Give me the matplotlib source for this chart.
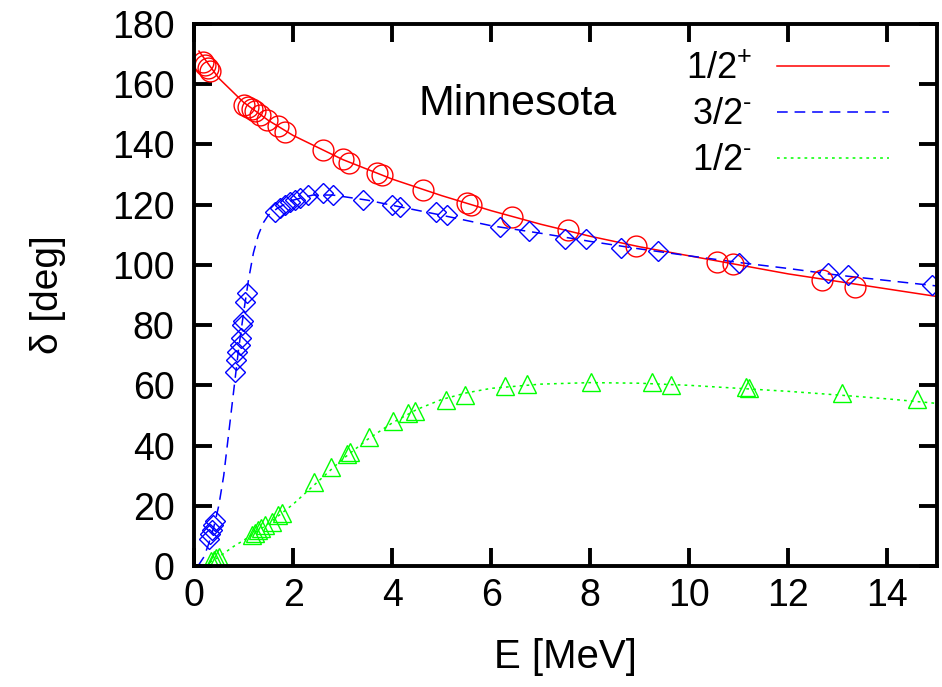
import matplotlib
matplotlib.use("Agg")
import matplotlib.pyplot as plt

plt.rcParams['font.family'] = ['Liberation Sans', 'DejaVu Sans']
plt.rcParams['mathtext.fontset'] = 'custom'
plt.rcParams['mathtext.rm'] = 'Liberation Sans'
plt.rcParams['mathtext.it'] = 'Liberation Sans:italic'

# ---- data: 1/2+ (red) ----
e_p12 = [0.18, 0.23, 0.28, 0.33, 1.0, 1.1, 1.17, 1.23, 1.33, 1.47, 1.70, 1.84,
         2.6, 3.0, 3.12, 3.69, 3.79, 4.63, 5.52, 5.59, 6.43, 7.55, 8.93,
         10.55, 10.88, 12.68, 13.34]
d_p12 = [167.5, 166.5, 165.5, 164.3, 153.1, 152.3, 151.7, 151.2, 149.8, 148.1, 146.1, 144.2,
         138.0, 135.1, 134.0, 130.6, 129.9, 124.9, 120.4, 119.8, 116.0, 111.6, 106.4,
         101.0, 100.3, 95.0, 92.8]
curve_e_p12 = [0.1, 0.5, 1.0, 1.5, 2.0, 2.5, 3.0, 4.0, 5.0, 6.0, 7.0, 8.0, 9.0,
               10.0, 11.0, 12.0, 13.0, 14.0, 15.0]
curve_d_p12 = [171.0, 162.0, 154.0, 148.0, 143.0, 139.0, 135.0, 128.5, 123.0, 118.0,
               113.5, 109.5, 106.0, 103.0, 100.0, 97.0, 94.5, 92.0, 89.5]

# ---- data: 3/2- (blue) ----
e_m32 = [0.30, 0.33, 0.36, 0.39, 0.42, 0.83, 0.85, 0.87, 0.92, 0.94, 0.96, 0.98,
         1.03, 1.06, 1.64, 1.74, 1.84, 1.94, 2.04, 2.14, 2.31, 2.61, 2.81, 3.42,
         3.99, 4.16, 4.89, 5.10, 6.18, 6.76, 7.49, 7.91, 8.62, 9.36, 11.0,
         12.79, 13.21, 14.89]
d_m32 = [9.0, 10.5, 12.0, 13.5, 15.0, 64.5, 68.4, 71.2, 73.4, 75.6, 80.0, 81.2,
         87.8, 90.6, 117.7, 118.8, 119.9, 121.0, 121.6, 122.1, 123.2, 123.8, 123.2, 121.6,
         119.9, 119.3, 117.4, 116.6, 112.7, 111.4, 108.7, 108.5, 105.7, 104.7, 100.7,
         97.4, 96.6, 93.3]
curve_e_m32 = [0.08, 0.2, 0.3, 0.4, 0.5, 0.6, 0.7, 0.8, 0.9, 1.0, 1.1, 1.2, 1.3, 1.4,
               1.5, 1.7, 2.0, 2.4, 2.8, 3.5, 4.0, 5.0, 6.0, 7.0, 8.0, 9.0, 10.0, 11.0,
               12.0, 13.0, 14.0, 15.0]
curve_d_m32 = [0.0, 3.0, 7.5, 13.0, 20.0, 30.0, 44.0, 58.0, 72.0, 84.0, 95.0, 104.0,
               110.0, 114.0, 116.5, 119.0, 121.5, 123.2, 123.2, 121.5, 119.8, 116.5,
               113.0, 110.5, 107.8, 105.3, 103.0, 100.8, 98.8, 96.6, 94.8, 93.0]

# ---- data: 1/2- (green) ----
e_m12 = [0.35, 0.40, 0.45, 0.50, 1.17, 1.23, 1.30, 1.36, 1.43, 1.57, 1.70, 1.77,
         2.43, 2.76, 3.08, 3.15, 3.54, 4.02, 4.33, 4.47, 5.09, 5.48, 6.28, 6.72,
         8.02, 9.25, 9.63, 11.15, 11.2, 13.09, 14.59]
d_m12 = [1.5, 2.0, 2.5, 3.0, 10.3, 11.1, 12.0, 12.5, 13.6, 14.7, 16.9, 17.5,
         28.0, 33.0, 37.3, 38.0, 43.0, 48.2, 50.8, 51.5, 55.1, 56.8, 59.8, 60.4,
         61.0, 61.0, 60.0, 59.5, 59.0, 57.3, 55.5]
curve_e_m12 = [0.2, 0.5, 0.8, 1.0, 1.5, 2.0, 2.5, 3.0, 3.5, 4.0, 4.5, 5.0, 5.5, 6.0,
               7.0, 8.0, 9.0, 10.0, 11.0, 12.0, 13.0, 14.0, 15.0]
curve_d_m12 = [0.0, 3.0, 6.5, 8.5, 14.0, 20.5, 28.0, 35.5, 42.0, 47.5, 52.0, 55.3,
               57.5, 59.0, 60.4, 60.9, 60.7, 60.0, 59.0, 58.0, 56.8, 55.5, 54.0]

labels = [r'1/2$^{\mathregular{+}}$', r'3/2$^{\text{-}}$', r'1/2$^{\text{-}}$']
x_ticks = [0, 2, 4, 6, 8, 10, 12, 14]
y_ticks = [0, 20, 40, 60, 80, 100, 120, 140, 160, 180]

fig = plt.figure(figsize=(9.42, 6.87), dpi=100)
ax = fig.add_axes([194/942, 1-566/687, (937-194)/942, (566-24)/687])

red, blue, green = '#ff0000', '#0000ff', '#00ff00'
lw = 1.1

l1, = ax.plot(curve_e_p12, curve_d_p12, color=red, lw=lw)
l2, = ax.plot(curve_e_m32, curve_d_m32, color=blue, lw=lw, dashes=(7, 4.5))
l3, = ax.plot(curve_e_m12, curve_d_m12, color=green, lw=lw, dashes=(1.8, 2.7))

ax.plot(e_p12, d_p12, ls='none', marker='o', ms=15, mfc='none', mec=red, mew=1.0)
ax.plot(e_m32, d_m32, ls='none', marker='D', ms=10, mfc='none', mec=blue, mew=1.0)
ax.plot(e_m12, d_m12, ls='none', marker='^', ms=12.5, mfc='none', mec=green, mew=1.0)

ax.set_xlim(0, 15)
ax.set_ylim(0, 180)
ax.set_xticks(x_ticks)
ax.set_yticks(y_ticks)
ax.tick_params(direction='in', length=13, width=2.8, top=True, right=True,
               labelsize=27, colors='black')
ax.tick_params(axis='y', pad=14)
ax.tick_params(axis='x', pad=9)
for s in ax.spines.values():
    s.set_linewidth(2.8)

ax.set_xlabel('E [MeV]', fontsize=29, labelpad=17)
ax.set_ylabel('δ [deg]', fontsize=28, labelpad=33)

ax.text(4.53, 153.4, 'Minnesota', fontsize=31, va='center', ha='left')

leg = ax.legend([l1, l2, l3], labels, loc='upper right', bbox_to_anchor=(0.979, 1.009),
                frameon=False, markerfirst=False, fontsize=26, handlelength=3.1,
                handletextpad=0.7, labelspacing=0.3)

fig.savefig('out.png', dpi=100)
